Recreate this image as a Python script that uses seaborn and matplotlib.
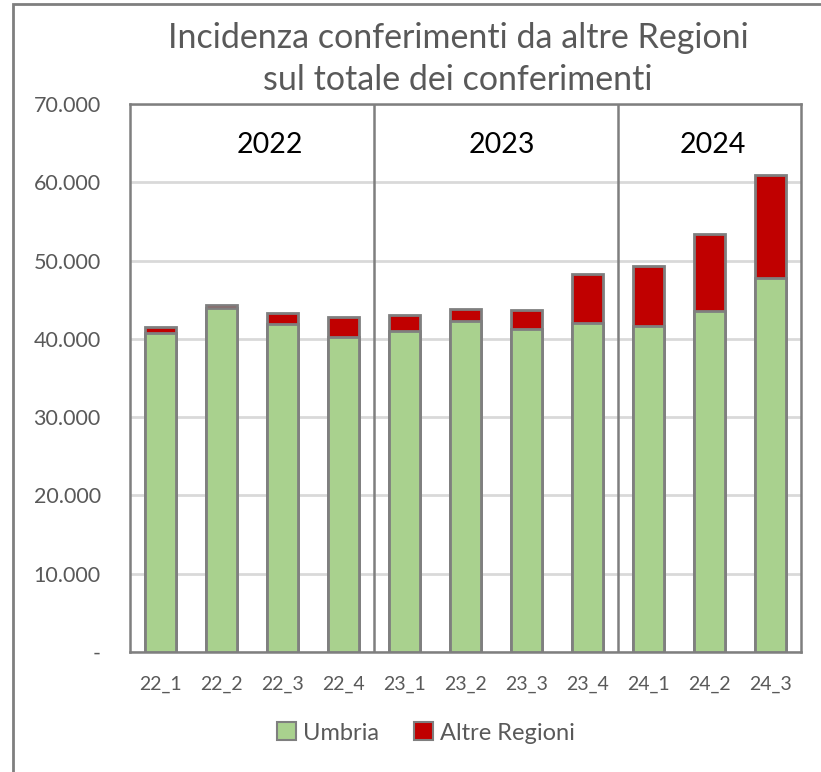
import numpy as np
import matplotlib
matplotlib.use("Agg")
import matplotlib.pyplot as plt
import seaborn as sns
import pandas as pd
from matplotlib.patches import Patch, Rectangle

# values
periods = ["22_1", "22_2", "22_3", "22_4", "23_1", "23_2", "23_3", "23_4", "24_1", "24_2", "24_3"]
umbria = [40800, 44000, 41950, 40300, 41050, 42300, 41300, 42050, 41600, 43500, 47800]
altre_regioni = [700, 300, 1400, 2550, 2050, 1550, 2400, 6250, 7650, 9850, 13100]
years = ["2022", "2023", "2024"]
year_label_pos = [1.8, 5.6, 9.05]
year_sep = [3.5, 7.5]
y_ticks = [0, 10000, 20000, 30000, 40000, 50000, 60000, 70000]

df = pd.DataFrame({"periodo": periods, "Umbria": umbria, "Altre Regioni": altre_regioni})
df["totale"] = df["Umbria"] + df["Altre Regioni"]

sns.set_style("white")
plt.rcParams["font.family"] = ["Lato", "DejaVu Sans"]

green = "#a9d18e"
red = "#c00000"
edge = "#7f7f7f"
txt = "#595959"

fig = plt.figure(figsize=(8.21, 7.72), dpi=100)
ax = fig.add_axes([130 / 821, 1 - 652 / 772, 671 / 821, 548 / 772])

sns.barplot(data=df, x="periodo", y="totale", color=red, width=0.52,
            edgecolor=edge, linewidth=2, saturation=1, ax=ax, zorder=3)
sns.barplot(data=df, x="periodo", y="Umbria", color=green, width=0.52,
            edgecolor=edge, linewidth=2, saturation=1, ax=ax, zorder=4)

ax.set_ylim(0, 70000)
ax.set_xlim(-0.5, len(periods) - 0.5)
ax.set_yticks(y_ticks)
ax.set_yticklabels(["-"] + [f"{v:,}".replace(",", ".") for v in y_ticks[1:]])
ax.yaxis.grid(True, color="#d9d9d9", linewidth=2, zorder=0)
ax.set_axisbelow(True)
ax.set_xlabel("")
ax.set_ylabel("")
ax.tick_params(axis="y", length=0, pad=21, labelsize=15.5, labelcolor=txt)
ax.tick_params(axis="x", length=0, pad=17, labelsize=14, labelcolor=txt)
for s in ax.spines.values():
    s.set_color(edge)
    s.set_linewidth(1.8)

for x in year_sep:
    ax.axvline(x, color=edge, linewidth=1.8, zorder=5)
for x, y in zip(year_label_pos, years):
    ax.text(x, 64800, y, ha="center", va="center", fontsize=20.5, color="black")

fig.text(458 / 821, 1 - 59 / 772, "Incidenza conferimenti da altre Regioni\nsul totale dei conferimenti",
         ha="center", va="center", fontsize=24.5, color=txt, linespacing=1.36)

handles = [Patch(facecolor=green, edgecolor=edge, linewidth=1.5, label="Umbria"),
           Patch(facecolor=red, edgecolor=edge, linewidth=1.5, label="Altre Regioni")]
fig.legend(handles=handles, loc="center", bbox_to_anchor=(426 / 821, 1 - 733 / 772), ncol=2,
           frameon=False, fontsize=17, labelcolor=txt, handlelength=0.8, handleheight=0.8,
           handletextpad=0.3, columnspacing=1.5)

# outer chart border
fig.add_artist(Rectangle((13 / 821, -0.1), 1.2, 1 - 4 / 772 + 0.1, transform=fig.transFigure,
                         fill=False, edgecolor=edge, linewidth=2))

fig.savefig("out.png", dpi=100)
